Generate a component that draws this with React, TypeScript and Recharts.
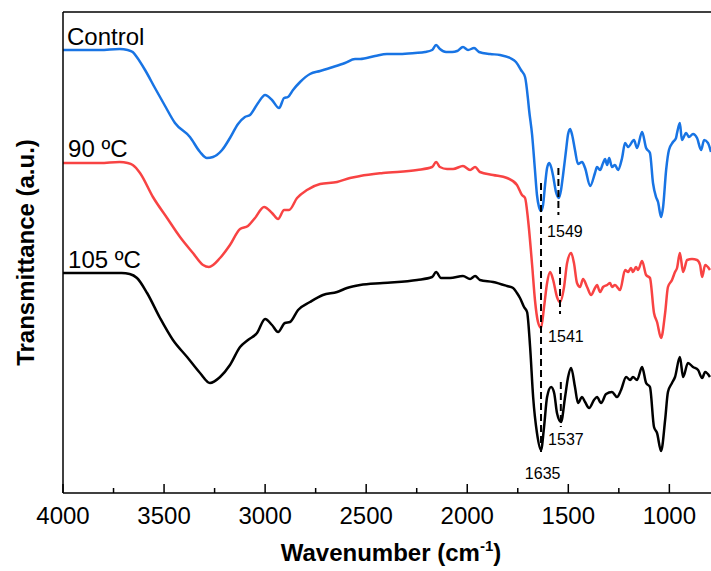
import { LineChart, Line, XAxis, YAxis, ReferenceLine, ReferenceDot, Label } from "recharts";

// FTIR spectra, [wavenumber (cm-1), transmittance (a.u., offset stacked)]
type Pt = [number, number];

const control: Pt[] = [
  [4000, 443], [3817, 443], [3720, 444], [3680, 443], [3655, 441], [3635, 436], [3594, 423], [3545, 405], [3495, 387],
  [3446, 370], [3372, 356], [3322, 341], [3288, 335], [3258, 336], [3213, 343], [3174, 355], [3134, 369],
  [3100, 376], [3075, 378], [3035, 390], [3000, 398], [2966, 393], [2931, 385], [2906, 395], [2887, 396],
  [2862, 403], [2827, 411], [2778, 419], [2728, 422], [2664, 426], [2605, 430], [2555, 434], [2530, 434],
  [2456, 437], [2397, 439], [2333, 439], [2258, 440], [2209, 441], [2174, 443], [2154, 448], [2135, 444],
  [2105, 441], [2075, 441], [2050, 442], [2021, 446], [1996, 443], [1966, 445], [1942, 441], [1887, 439],
  [1838, 438], [1788, 435], [1759, 431], [1734, 423], [1714, 416], [1699, 393], [1694, 383], [1679, 358],
  [1665, 323], [1655, 298], [1645, 286], [1635, 282], [1625, 288], [1615, 308], [1605, 325], [1595, 330],
  [1585, 326], [1575, 317], [1561, 301], [1547, 295], [1536, 303], [1526, 318], [1511, 343], [1501, 359],
  [1491, 364], [1481, 358], [1467, 343], [1452, 329], [1432, 331], [1417, 325], [1392, 307], [1368, 320],
  [1358, 326], [1343, 323], [1328, 330], [1318, 334], [1308, 328], [1298, 335], [1284, 326], [1269, 328],
  [1254, 323], [1234, 335], [1219, 350], [1204, 346], [1175, 353], [1160, 345], [1135, 361], [1115, 345],
  [1096, 340], [1081, 310], [1066, 296], [1056, 291], [1041, 276], [1031, 286], [1016, 323], [1002, 343],
  [982, 351], [967, 355], [962, 360], [948, 370], [938, 353], [917, 360], [903, 356], [883, 359],
  [863, 355], [843, 343], [828, 353], [809, 350], [794, 341],
];

const temp90: Pt[] = [
  [4000, 330], [3817, 330], [3720, 331], [3680, 330], [3655, 328], [3619, 320], [3555, 296], [3485, 275], [3421, 256],
  [3357, 240], [3307, 228], [3278, 226], [3223, 235], [3174, 248], [3124, 264], [3085, 267], [3050, 275],
  [3005, 286], [2966, 280], [2936, 274], [2906, 283], [2882, 283], [2842, 295], [2793, 303], [2728, 309],
  [2644, 311], [2580, 315], [2530, 317], [2417, 320], [2248, 323], [2174, 326], [2154, 331], [2135, 326],
  [2100, 324], [2070, 324], [2021, 327], [1986, 323], [1961, 326], [1937, 321], [1872, 318], [1803, 315],
  [1754, 308], [1729, 298], [1714, 295], [1699, 273], [1679, 228], [1665, 193], [1650, 171], [1635, 165],
  [1620, 186], [1605, 210], [1590, 221], [1575, 213], [1556, 196], [1541, 191], [1521, 206], [1506, 230],
  [1486, 240], [1472, 230], [1457, 210], [1442, 206], [1427, 214], [1407, 206], [1387, 198], [1368, 205],
  [1358, 208], [1343, 201], [1328, 206], [1308, 208], [1293, 210], [1284, 206], [1269, 208], [1244, 203],
  [1219, 223], [1204, 221], [1190, 225], [1180, 221], [1165, 226], [1155, 223], [1135, 232], [1115, 218],
  [1096, 215], [1076, 180], [1061, 171], [1041, 155], [1021, 180], [1007, 206], [987, 213], [972, 221],
  [962, 225], [948, 240], [932, 221], [912, 233], [888, 234], [863, 233], [848, 228], [838, 216],
  [823, 228], [799, 223],
];

const temp105: Pt[] = [
  [4000, 220], [3817, 220], [3710, 220], [3670, 219], [3634, 215], [3584, 200], [3520, 175], [3456, 153], [3386, 136],
  [3322, 120], [3273, 110], [3223, 116], [3174, 128], [3124, 146], [3085, 153], [3040, 160], [3000, 174],
  [2966, 168], [2936, 161], [2902, 170], [2877, 171], [2837, 183], [2778, 191], [2714, 198], [2644, 201],
  [2595, 205], [2530, 208], [2417, 210], [2248, 213], [2174, 216], [2154, 221], [2130, 215], [2085, 215],
  [2021, 217], [1986, 214], [1961, 217], [1937, 213], [1872, 211], [1803, 207], [1773, 205], [1754, 200],
  [1739, 195], [1719, 186], [1704, 181], [1689, 146], [1674, 96], [1655, 60], [1635, 43], [1620, 66],
  [1605, 96], [1585, 106], [1570, 100], [1556, 80], [1536, 71], [1516, 96], [1501, 116], [1486, 125],
  [1467, 106], [1452, 90], [1432, 96], [1417, 91], [1397, 85], [1373, 93], [1358, 96], [1338, 90],
  [1313, 99], [1284, 101], [1259, 96], [1239, 103], [1214, 116], [1194, 113], [1180, 116], [1160, 113],
  [1135, 126], [1115, 110], [1096, 106], [1076, 66], [1061, 60], [1041, 42], [1021, 73], [1007, 101],
  [987, 110], [972, 116], [948, 136], [932, 116], [908, 130], [883, 126], [858, 123], [838, 115],
  [823, 121], [799, 116],
];

const majorTicks = [4000, 3500, 3000, 2500, 2000, 1500, 1000];
const minorTicks = [3750, 3250, 2750, 2250, 1750, 1250];

const seriesNames = ["Control", "90 ºC", "105 ºC"];
const seriesColors = ["#1874e4", "#f84343", "#000000"];

// where each curve name sits (left edge wavenumber, vertical centre)
const nameSpots: Pt[] = [[3980, 457], [3975, 345], [3975, 234]];

// dashed guide lines at the amide bands
const peakLines = [
  { wn: 1635, from: 310, to: 41 },
  { wn: 1549, from: 325, to: 278 },
  { wn: 1541, from: 226, to: 179 },
  { wn: 1537, from: 111, to: 66 },
];

const peakLabels = [
  { text: "1549", wn: 1605, t: 262, pos: "right" },
  { text: "1541", wn: 1600, t: 157, pos: "right" },
  { text: "1537", wn: 1600, t: 54, pos: "right" },
  { text: "1635", wn: 1627, t: 20, pos: "center" },
];

const FONT = "'Liberation Sans', Arial, sans-serif";

const WnTick = (props: any) => {
  const { x, y, payload } = props;
  const major = payload.value % 500 === 0;
  return (
    <g>
      <line x1={x} x2={x} y1={y} y2={y - (major ? 9 : 5)} stroke="#000" strokeWidth={1.5} />
      {major && (
        <text x={x} y={y + 31} textAnchor="middle" fontSize={24} fill="#000" fontFamily={FONT}>
          {payload.value}
        </text>
      )}
    </g>
  );
};

const XTitle = ({ viewBox }: any) => (
  <text
    x={viewBox.x + 328}
    y={viewBox.y + 68}
    textAnchor="middle"
    fontSize={24}
    fontWeight="bold"
    fill="#000"
    fontFamily={FONT}
  >
    Wavenumber (cm
    <tspan dy={-10} fontSize={15}>-1</tspan>
    <tspan dy={10}>)</tspan>
  </text>
);

const YTitle = ({ viewBox }: any) => {
  const cx = viewBox.x + 25;
  const cy = viewBox.y + viewBox.height / 2;
  return (
    <text
      x={cx}
      y={cy}
      transform={`rotate(-90 ${cx} ${cy})`}
      textAnchor="middle"
      dominantBaseline="central"
      fontSize={24}
      fontWeight="bold"
      fill="#000"
      fontFamily={FONT}
    >
      Transmittance (a.u.)
    </text>
  );
};

export default function App() {
  const spectra = [control, temp90, temp105];
  return (
    <div
      style={{
        position: "absolute",
        left: 0,
        top: 0,
        width: 711,
        height: 571,
        overflow: "hidden",
        background: "#fff",
        fontFamily: FONT,
      }}
    >
      <LineChart width={730} height={571} margin={{ top: 12, right: 0, bottom: 0, left: 0 }}>
        <XAxis
          dataKey="wn"
          type="number"
          domain={[700, 4000]}
          reversed
          allowDataOverflow
          ticks={[...majorTicks, ...minorTicks].sort((a, b) => b - a)}
          interval={0}
          tick={<WnTick />}
          tickLine={false}
          tickSize={0}
          tickMargin={0}
          height={78}
          axisLine={{ stroke: "#000", strokeWidth: 1.5 }}
        >
          <Label content={<XTitle />} />
        </XAxis>
        <YAxis
          type="number"
          domain={[0, 481]}
          allowDataOverflow
          tick={false}
          tickLine={false}
          width={63}
          axisLine={{ stroke: "#000", strokeWidth: 1.5 }}
        >
          <Label content={<YTitle />} />
        </YAxis>
        <ReferenceLine y={481} stroke="#000" strokeWidth={1.5} />
        {spectra.map((s, i) => (
          <Line
            key={seriesNames[i]}
            name={seriesNames[i]}
            data={s.map(([wn, t]) => ({ wn, t }))}
            dataKey="t"
            type="monotone"
            stroke={seriesColors[i]}
            strokeWidth={2.5}
            dot={false}
            activeDot={false}
            isAnimationActive={false}
          />
        ))}
        {peakLines.map((p) => (
          <ReferenceLine
            key={p.wn}
            segment={[
              { x: p.wn, y: p.from },
              { x: p.wn, y: p.to },
            ]}
            stroke="#000"
            strokeWidth={2}
            strokeDasharray="7 4"
          />
        ))}
        {peakLabels.map((p) => (
          <ReferenceDot
            key={p.text}
            x={p.wn}
            y={p.t}
            r={0}
            fill="none"
            stroke="none"
            label={{ value: p.text, position: p.pos as any, offset: 0, fontSize: 16, fill: "#000", fontFamily: FONT }}
          />
        ))}
        {nameSpots.map(([wn, t], i) => (
          <ReferenceDot
            key={seriesNames[i]}
            x={wn}
            y={t}
            r={0}
            fill="none"
            stroke="none"
            label={{ value: seriesNames[i], position: "right", offset: 0, fontSize: 24, fill: "#000", fontFamily: FONT }}
          />
        ))}
      </LineChart>
    </div>
  );
}
